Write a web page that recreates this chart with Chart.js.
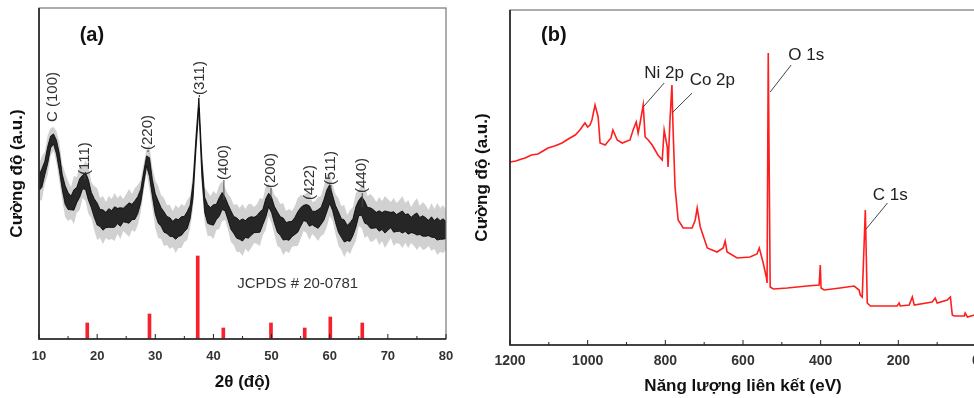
<!DOCTYPE html>
<html>
<head>
<meta charset="utf-8">
<script src="https://cdn.jsdelivr.net/npm/chart.js"></script>
<style>
  html, body { margin: 0; padding: 0; background: #fff; overflow: hidden; width: 974px; height: 398px; }
  canvas { position: absolute; top: 0; }
  #xrdChart { left: 0; }
  #xpsChart { left: 468px; }
</style>
</head>
<body>
<canvas id="xrdChart" width="468" height="398"></canvas>
<canvas id="xpsChart" width="540" height="398"></canvas>
<script>
// ---------- (a) XRD pattern ----------
const xrdTheta = [
  10, 10.5, 11, 11.5, 12, 12.5, 13, 13.5, 14, 14.5,
  15, 15.5, 16, 16.5, 17, 17.5, 18, 18.5, 19, 19.5,
  20, 20.5, 21, 21.5, 22, 22.5, 23, 23.5, 24, 24.5,
  25, 25.5, 26, 26.5, 27, 27.5, 28, 28.5, 29, 29.5,
  30, 30.5, 31, 31.5, 32, 32.5, 33, 33.5, 34, 34.5,
  35, 35.5, 36, 36.5, 37, 37.5, 38, 38.5, 39, 39.5,
  40, 40.5, 41, 41.5, 42, 42.5, 43, 43.5, 44, 44.5,
  45, 45.5, 46, 46.5, 47, 47.5, 48, 48.5, 49, 49.5,
  50, 50.5, 51, 51.5, 52, 52.5, 53, 53.5, 54, 54.5,
  55, 55.5, 56, 56.5, 57, 57.5, 58, 58.5, 59, 59.5,
  60, 60.5, 61, 61.5, 62, 62.5, 63, 63.5, 64, 64.5,
  65, 65.5, 66, 66.5, 67, 67.5, 68, 68.5, 69, 69.5,
  70, 70.5, 71, 71.5, 72, 72.5, 73, 73.5, 74, 74.5,
  75, 75.5, 76, 76.5, 77, 77.5, 78, 78.5, 79, 79.5,
  80
];
const xrdIntensity = [
  156, 161, 171, 184, 197, 200, 192, 177, 157, 144,
  138, 136, 139, 144, 151, 157, 158, 149, 139, 131,
  125, 121, 119, 119, 121, 120, 122, 123, 122, 124,
  125, 126, 127, 129, 134, 143, 161, 178, 172, 151,
  135, 127, 122, 117, 114, 112, 110, 110, 111, 113,
  115, 119, 127, 149, 196, 236, 172, 134, 125, 123,
  124, 127, 132, 138, 135, 127, 119, 114, 111, 109,
  109, 110, 111, 113, 114, 115, 117, 122, 131, 139,
  134, 124, 117, 113, 110, 108, 108, 110, 113, 117,
  122, 126, 126, 123, 121, 120, 120, 123, 129, 138,
  145, 136, 125, 117, 111, 108, 106, 107, 112, 122,
  131, 133, 127, 123, 121, 120, 119, 118, 118, 117,
  118, 119, 117, 116, 117, 117, 116, 115, 114, 115,
  115, 113, 113, 112, 111, 112, 110, 110, 109, 110,
  109
];
// half width of the noisy trace around the mean
const xrdNoise = [
  9, 11, 8, 10, 7, 6, 8, 10, 9, 11,
  10, 8, 12, 9, 11, 8, 10, 12, 9, 11,
  13, 10, 12, 9, 11, 10, 12, 9, 11, 8,
  10, 12, 9, 11, 10, 8, 7, 6, 11, 10,
  12, 13, 11, 12, 10, 11, 9, 12, 10, 11,
  9, 10, 8, 9, 7, 6, 10, 9, 11, 10,
  12, 9, 11, 10, 8, 9, 11, 10, 12, 11,
  13, 10, 12, 11, 9, 10, 12, 9, 11, 8,
  9, 10, 12, 11, 13, 10, 11, 9, 10, 12,
  11, 9, 10, 12, 8, 9, 11, 10, 12, 13,
  11, 9, 10, 12, 11, 13, 9, 11, 10, 12,
  9, 11, 13, 10, 12, 11, 9, 12, 10, 13,
  11, 9, 12, 10, 11, 13, 10, 12, 9, 11,
  13, 10, 12, 11, 9, 12, 10, 13, 11, 12,
  10
];
const jcpdsTheta = [18.3, 29.0, 37.3, 41.7, 49.9, 55.7, 60.1, 65.6];
const jcpdsIntensity = [16, 25, 83, 11, 16, 11, 22, 16];
const xrdPeakNames = ["C (100)", "(111)", "(220)", "(311)", "(400)", "(200)", "(422)", "(511)", "(440)"];
const xrdPeakTheta = [12.4, 17.9, 28.75, 37.6, 41.8, 49.9, 56.6, 60.2, 65.6];
const xrdLabelLevel = [217, 164, 189, 244, 159, 151, 139, 154, 146];
const xrdPeakTop = [217, 159, 187, 242, 139, 141, 139, 149, 132];
const xrdTicks = [10, 20, 30, 40, 50, 60, 70, 80];

// ---------- (b) XPS survey ----------
const xpsEnergy = [
  1200, 1185, 1170, 1161, 1145, 1128, 1115, 1102, 1085, 1066,
  1050, 1032, 1020, 1007, 1000, 994, 989, 981, 973, 968,
  955, 940, 935, 924, 911, 891, 883, 875, 870, 865,
  857, 852, 844, 834, 819, 808, 803, 795, 793, 788,
  783, 780, 775, 767, 754, 731, 723, 718, 710, 692,
  667, 651, 646, 641, 615, 582, 564, 558, 548, 540,
  538, 535, 530, 522, 486, 435, 404, 401, 399, 391,
  350, 314, 301, 298, 293, 285, 280, 272, 203, 198,
  195, 172, 164, 159, 113, 105, 100, 74, 66, 61,
  56, 30, 28, 22, 4, 0
];
const xpsIntensity = [
  183, 184, 186, 187, 190, 191, 194, 197, 199, 202,
  206, 210, 215, 222, 218, 220, 225, 240, 228, 202,
  200, 207, 215, 205, 202, 205, 215, 223, 212, 222,
  240, 208, 205, 200, 190, 185, 215, 198, 178, 225,
  260, 215, 158, 125, 117, 117, 125, 137, 118, 97,
  93, 97, 104, 93, 87, 88, 91, 97, 82, 68,
  62, 292, 58, 56, 57, 59, 60, 80, 57, 55,
  57, 59, 55, 50, 48, 135, 42, 39, 39, 42,
  39, 40, 48, 40, 43, 47, 42, 45, 48, 30,
  29, 29, 32, 28, 30, 30
];
const xpsPeakNames = ["Ni 2p", "Co 2p", "O 1s", "C 1s"];
const xpsLabelEnergy = [803, 679, 437, 221];
const xpsLabelLevel = [272, 265, 290, 150];
const xpsLeaderFrom = [[803, 262], [731, 252], [476, 280], [228, 142]];
const xpsLeaderTo = [[857, 238], [783, 232], [530, 253], [283, 116]];
const xpsTicks = [1200, 1000, 800, 600, 400, 200, 0];

const FONT = "'Liberation Sans', Arial, sans-serif";
const coreFactor = 0.85;
const spikeFactor = 2.0;

// box around the plot with small inward ticks
function makeFrame(minorStep) {
  return {
    id: "frame",
    afterDatasetsDraw(chart) {
      const { ctx, chartArea: a, scales: { x } } = chart;
      ctx.save();
      ctx.strokeStyle = "#777";
      ctx.lineWidth = 1.2;
      ctx.strokeRect(a.left, a.top, a.right - a.left, a.bottom - a.top);
      ctx.strokeStyle = "#222";
      ctx.lineWidth = 1.6;
      ctx.beginPath();
      ctx.moveTo(a.left, a.top);
      ctx.lineTo(a.left, a.bottom);
      ctx.lineTo(a.right, a.bottom);
      ctx.stroke();
      ctx.lineWidth = 1;
      const lo = Math.min(x.min, x.max), hi = Math.max(x.min, x.max);
      for (let v = lo; v <= hi + 1e-9; v += minorStep) {
        const px = x.getPixelForValue(v);
        const major = Math.round((v - lo) / minorStep) % 2 === 0;
        ctx.beginPath();
        ctx.moveTo(px, a.bottom);
        ctx.lineTo(px, a.bottom - (major ? 5 : 3));
        ctx.stroke();
      }
      ctx.restore();
    }
  };
}

// text notes placed through the scales
function makeNotes(items) {
  return {
    id: "notes",
    afterDraw(chart) {
      const { ctx, scales: { x, y } } = chart;
      ctx.save();
      items.forEach(it => {
        ctx.fillStyle = it.color || "#222";
        ctx.font = it.font;
        if (it.leader) {
          ctx.strokeStyle = "#444";
          ctx.lineWidth = 1;
          ctx.beginPath();
          ctx.moveTo(x.getPixelForValue(it.leader[0]), y.getPixelForValue(it.leader[1]));
          ctx.lineTo(x.getPixelForValue(it.leader[2]), y.getPixelForValue(it.leader[3]));
          ctx.stroke();
        }
        const px = x.getPixelForValue(it.x), py = y.getPixelForValue(it.y);
        if (it.rotate) {
          ctx.save();
          ctx.translate(px, py);
          ctx.rotate(-Math.PI / 2);
          ctx.textAlign = "left";
          ctx.textBaseline = "middle";
          ctx.fillText(it.text, 0, 0);
          ctx.restore();
        } else {
          ctx.textAlign = "center";
          ctx.textBaseline = "middle";
          ctx.fillText(it.text, px, py);
        }
      });
      ctx.restore();
    }
  };
}

const pts = (xs, ys) => xs.map((v, i) => ({ x: v, y: ys[i] }));
const band = k => sign => xrdTheta.map((t, i) => ({ x: t, y: xrdIntensity[i] + sign * k * (xrdNoise[i] || 10) }));

// ---- chart (a)
const xrdNotes = [{ text: "(a)", x: 19.1, y: 304, font: "bold 20px " + FONT, color: "#111" },
  { text: "JCPDS # 20-0781", x: 54.5, y: 55, font: "15px " + FONT, color: "#333" }];
xrdPeakNames.forEach((n, i) => {
  xrdNotes.push({
    text: n, x: xrdPeakTheta[i], y: xrdLabelLevel[i], rotate: true,
    font: "15px " + FONT, color: "#333",
    leader: [xrdPeakTheta[i], xrdLabelLevel[i], xrdPeakTheta[i], xrdPeakTop[i]]
  });
});

new Chart(document.getElementById("xrdChart"), {
  type: "line",
  data: {
    datasets: [
      { data: band(spikeFactor)(1), fill: "+1", backgroundColor: "rgba(0,0,0,0.18)", borderWidth: 0, pointRadius: 0 },
      { data: band(spikeFactor)(-1), fill: false, borderWidth: 0, pointRadius: 0 },
      { data: band(coreFactor)(1), fill: "+1", backgroundColor: "rgba(0,0,0,0.82)", borderColor: "#000", borderWidth: 0.8, pointRadius: 0 },
      { data: band(coreFactor)(-1), fill: false, borderColor: "#000", borderWidth: 0.8, pointRadius: 0 },
      { type: "bar", data: pts(jcpdsTheta, jcpdsIntensity), backgroundColor: "#f5222d", barThickness: 3 }
    ]
  },
  options: {
    responsive: false,
    animation: false,
    layout: { padding: { left: 0, right: 22, top: 8, bottom: 0 } },
    plugins: { legend: { display: false }, tooltip: { enabled: false } },
    scales: {
      x: {
        type: "linear", min: 10, max: 80, offset: false,
        grid: { display: false, drawTicks: false }, border: { display: false },
        afterBuildTicks: s => { s.ticks = xrdTicks.map(v => ({ value: v })); },
        afterFit: s => { s.height = 59; },
        ticks: { padding: 10, color: "#333", callback: v => String(v),
                 font: { family: FONT, size: 13, weight: "bold" } },
        title: { display: true, text: "2θ (độ)", color: "#111", padding: { top: 0, bottom: 5 },
                 font: { family: FONT, size: 17, weight: "bold" } }
      },
      y: {
        min: 0, max: 331,
        grid: { display: false, drawTicks: false }, border: { display: false },
        ticks: { display: false },
        afterFit: s => { s.width = 39; },
        title: { display: true, text: "Cường độ (a.u.)", color: "#111", padding: { top: 7, bottom: 0 },
                 font: { family: FONT, size: 17, weight: "bold" } }
      }
    }
  },
  plugins: [makeFrame(5), makeNotes(xrdNotes)]
});

// ---- chart (b)
const xpsNotes = [{ text: "(b)", x: 1087, y: 310, font: "bold 20px " + FONT, color: "#111" }];
xpsPeakNames.forEach((n, i) => {
  xpsNotes.push({
    text: n, x: xpsLabelEnergy[i], y: xpsLabelLevel[i], font: "17px " + FONT, color: "#222",
    leader: [xpsLeaderFrom[i][0], xpsLeaderFrom[i][1], xpsLeaderTo[i][0], xpsLeaderTo[i][1]]
  });
});

new Chart(document.getElementById("xpsChart"), {
  type: "line",
  data: {
    datasets: [
      { data: pts(xpsEnergy, xpsIntensity), borderColor: "#ff1e1e", borderWidth: 1.6, pointRadius: 0, fill: false }
    ]
  },
  options: {
    responsive: false,
    animation: false,
    layout: { padding: { left: 0, right: 32, top: 10, bottom: 0 } },
    plugins: { legend: { display: false }, tooltip: { enabled: false } },
    scales: {
      x: {
        type: "linear", min: 0, max: 1200, reverse: true, offset: false,
        grid: { display: false, drawTicks: false }, border: { display: false },
        afterBuildTicks: s => { s.ticks = xpsTicks.map(v => ({ value: v })); },
        afterFit: s => { s.height = 53; },
        ticks: { padding: 8, color: "#333", callback: v => String(v),
                 font: { family: FONT, size: 14, weight: "bold" } },
        title: { display: true, text: "Năng lượng liên kết (eV)", color: "#111", padding: { top: 0, bottom: 1 },
                 font: { family: FONT, size: 17, weight: "bold" } }
      },
      y: {
        min: 0, max: 335,
        grid: { display: false, drawTicks: false }, border: { display: false },
        ticks: { display: false },
        afterFit: s => { s.width = 42; },
        title: { display: true, text: "Cường độ (a.u.)", color: "#111", padding: { top: 4, bottom: 0 },
                 font: { family: FONT, size: 17, weight: "bold" } }
      }
    }
  },
  plugins: [makeFrame(100), makeNotes(xpsNotes)]
});
</script>
</body>
</html>
